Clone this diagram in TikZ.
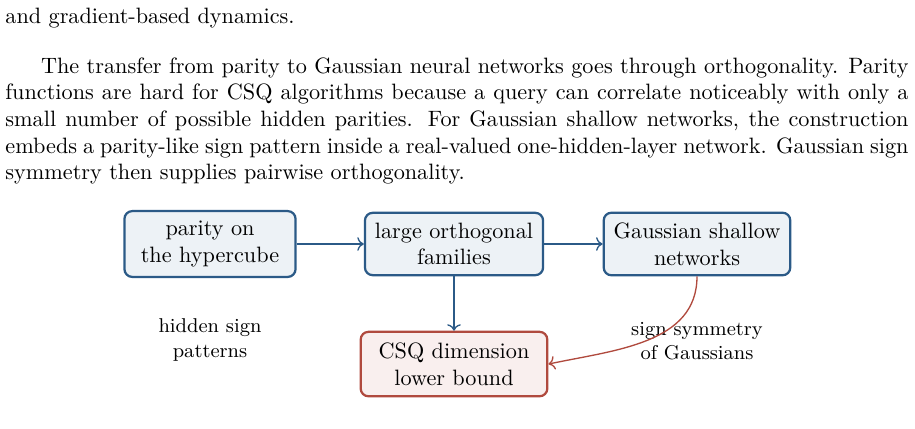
\documentclass[tikz,border=0pt]{standalone}
\usetikzlibrary{positioning, arrows.meta}
\definecolor{flowblue}{HTML}{2B5A87}
\definecolor{flowbluefill}{HTML}{EDF2F6}
\definecolor{boundred}{HTML}{B04A3E}
\definecolor{boundredfill}{HTML}{F9EFEE}

\begin{document}
\begin{tikzpicture}[
    x=0.45pt, y=-0.45pt,
    bodytext/.style={anchor=north west, inner sep=0pt, text width=406.4pt, align=justify},
    famnode/.style={rectangle, draw=flowblue, fill=flowbluefill, line width=1pt, rounded corners=3.5pt, align=center, inner sep=4.5pt},
    boundnode/.style={rectangle, draw=boundred, fill=boundredfill, line width=1pt, rounded corners=3.5pt, align=center, inner sep=4.5pt, minimum width=84pt, minimum height=29pt},
    note/.style={align=center, font=\small},
    arr/.style={->, draw=flowblue, line width=0.6pt},
    redarr/.style={->, draw=boundred, line width=0.6pt}
]
    \useasboundingbox (0,0) rectangle (915,428);

    \node[bodytext] (intro) at (5,8) {and gradient-based dynamics.};
    \node[bodytext] (para) at (5,57) {\hspace*{16pt}The transfer from parity to Gaussian neural networks goes through orthogonality. Parity functions are hard for CSQ algorithms because a query can correlate noticeably with only a small number of possible hidden parities.  For Gaussian shallow networks, the construction embeds a parity-like sign pattern inside a real-valued one-hidden-layer network. Gaussian sign symmetry then supplies pairwise orthogonality.};

    \node[famnode, minimum width=77pt, minimum height=29.5pt] (parity) at (210,244) {parity on\\the hypercube};
    \node[famnode] (ortho) at (454,244) {large orthogonal\\families};
    \node[famnode] (gauss) at (697,244) {Gaussian shallow\\networks};
    \node[boundnode] (csq) [below=24.5pt of ortho] {CSQ dimension\\lower bound};

    \node[note] (hidden) at (210,340) {hidden sign\\patterns};
    \node[note] (symm) at (697,341) {sign symmetry\\of Gaussians};

    \draw[arr] (parity) -- (ortho);
    \draw[arr] (ortho) -- (gauss);
    \draw[arr] (ortho) -- (csq);
    \draw[redarr] (gauss.south) to[out=-90, in=12] (csq.east);
\end{tikzpicture}
\end{document}
